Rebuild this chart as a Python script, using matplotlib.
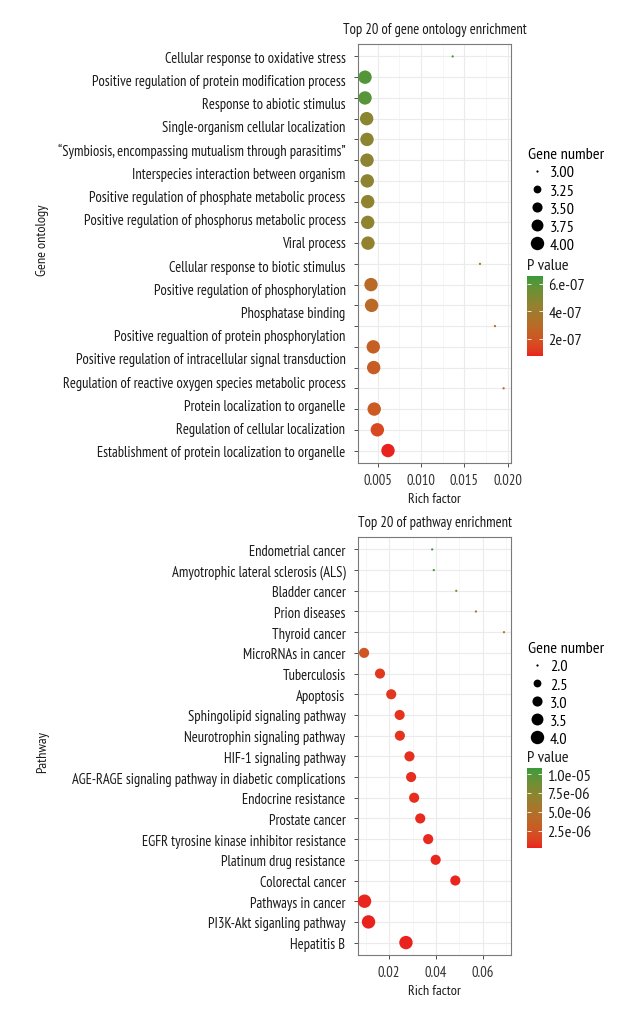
import numpy as np
import matplotlib
matplotlib.use("Agg")
import matplotlib.pyplot as plt
from matplotlib import font_manager
from matplotlib.colors import ListedColormap, Normalize
from matplotlib.lines import Line2D
from matplotlib.ticker import FixedLocator, NullFormatter

# ---------------- data ----------------
go_terms = [
    "Cellular response to oxidative stress",
    "Positive regulation of protein modification process",
    "Response to abiotic stimulus",
    "Single-organism cellular localization",
    "\u201cSymbiosis, encompassing mutualism through parasitims\u201d",
    "Interspecies interaction between organism",
    "Positive regulation of phosphate metabolic process",
    "Positive regulation of phosphorus metabolic process",
    "Viral process",
    "Cellular response to biotic stimulus",
    "Positive regulation of phosphorylation",
    "Phosphatase binding",
    "Positive regualtion of protein phosphorylation",
    "Positive regulation of intracellular signal transduction",
    "Regulation of reactive oxygen species metabolic process",
    "Protein localization to organelle",
    "Regulation of cellular localization",
    "Establishment of protein localization to organelle",
]
go_rich = [0.01365, 0.00354, 0.00354, 0.00373, 0.00377, 0.00377, 0.00380,
           0.00385, 0.00385, 0.00388, 0.01680, 0.00423, 0.00430, 0.01853,
           0.00449, 0.00454, 0.01953, 0.00460, 0.00496, 0.00619]
go_genes = [3, 4, 4, 4, 4, 4, 4, 4, 4, 4, 3, 4, 4, 3, 4, 4, 3, 4, 4, 4]
go_pvalue = [6.55e-7, 6.1e-7, 6.0e-7, 4.7e-7, 4.6e-7, 4.6e-7, 4.55e-7,
             4.5e-7, 4.5e-7, 4.4e-7, 3.5e-7, 3.0e-7, 2.9e-7, 2.8e-7,
             2.4e-7, 2.35e-7, 2.2e-7, 2.2e-7, 1.6e-7, 0.76e-7]
go_xticks = [0.005, 0.010, 0.015, 0.020]
go_xticklabels = ["0.005", "0.010", "0.015", "0.020"]
go_cbar_ticks = [2e-7, 4e-7, 6e-7]
go_cbar_labels = ["2e-07", "4e-07", "6.e-07"]
go_size_legend = [3.00, 3.25, 3.50, 3.75, 4.00]
go_size_labels = ["3.00", "3.25", "3.50", "3.75", "4.00"]

pw_terms = [
    "Endometrial cancer",
    "Amyotrophic lateral sclerosis (ALS)",
    "Bladder cancer",
    "Prion diseases",
    "Thyroid cancer",
    "MicroRNAs in cancer",
    "Tuberculosis",
    "Apoptosis",
    "Sphingolipid signaling pathway",
    "Neurotrophin signaling pathway",
    "HIF-1 signaling pathway",
    "AGE-RAGE signaling pathway in diabetic complications",
    "Endocrine resistance",
    "Prostate cancer",
    "EGFR tyrosine kinase inhibitor resistance",
    "Platinum drug resistance",
    "Colorectal cancer",
    "Pathways in cancer",
    "PI3K-Akt siganling pathway",
    "Hepatitis B",
]
pw_rich = [0.0384, 0.0391, 0.0487, 0.0571, 0.0691, 0.0093, 0.0161, 0.0209,
           0.0245, 0.0246, 0.0287, 0.0294, 0.0307, 0.0333, 0.0367, 0.0399,
           0.0483, 0.0095, 0.0112, 0.0272]
pw_genes = [2, 2, 2, 2, 2, 3, 3, 3, 3, 3, 3, 3, 3, 3, 3, 3, 3, 4, 4, 4]
pw_pvalue = [1.08e-5, 1.05e-5, 7.2e-6, 5.6e-6, 5.0e-6, 2.6e-6, 1.0e-6,
             9.0e-7, 8.0e-7, 7.5e-7, 6.5e-7, 6.0e-7, 5.5e-7, 5.0e-7,
             4.5e-7, 4.0e-7, 3.5e-7, 3.0e-7, 2.6e-7, 2.3e-7]
pw_xticks = [0.02, 0.04, 0.06]
pw_xticklabels = ["0.02", "0.04", "0.06"]
pw_cbar_ticks = [2.5e-6, 5.0e-6, 7.5e-6, 1.0e-5]
pw_cbar_labels = ["2.5e-06", "5.0e-06", "7.5e-06", "1.0e-05"]
pw_size_legend = [2.0, 2.5, 3.0, 3.5, 4.0]
pw_size_labels = ["2.0", "2.5", "3.0", "3.5", "4.0"]

# ---------------- style ----------------
available = {f.name for f in font_manager.fontManager.ttflist}
candidates = ["PT Sans Narrow", "Roboto Condensed", "Fira Sans Condensed",
              "Open Sans Condensed", "Asap Condensed", "Archivo Narrow",
              "Barlow Semi Condensed", "Liberation Sans Narrow"]
chosen = [c for c in candidates if c in available]
if chosen:
    FONT = [chosen[0], "DejaVu Sans"]
    STRETCH = "normal"
else:
    FONT = ["DejaVu Sans"]
    STRETCH = "condensed"
plt.rcParams["font.family"] = FONT
plt.rcParams["font.stretch"] = STRETCH
TXT = "#1a1a1a"

W, H = 630, 1020
fig = plt.figure(figsize=(W / 100, H / 100), dpi=100)
fig.patch.set_facecolor("white")
_renderer = fig.canvas.get_renderer()


def fit_size(s, target_px, base=10.0):
    t = fig.text(0, 0, s, fontsize=base)
    w = t.get_window_extent(renderer=_renderer).width
    t.remove()
    return base * target_px / w


FS_LAB = fit_size("Positive regulation of protein modification process", 254)
FS_TITLE = fit_size("Top 20 of gene ontology enrichment", 184)
FS_LEG = fit_size("Gene number", 76)
FS_TICK = fit_size("0.005", 29)
FS_AX = fit_size("Rich factor", 53)


def fx(px):
    return px / W


def fy(py):
    return 1 - py / H


# Lab-space gradient (ggplot style) from red (low) to green (high)
_M = np.array([[0.4124, 0.3576, 0.1805], [0.2126, 0.7152, 0.0722], [0.0193, 0.1192, 0.9505]])
_WHITE = np.array([0.95047, 1.0, 1.08883])


def to_lab(hexc):
    rgb = np.array([int(hexc[i:i + 2], 16) / 255 for i in (1, 3, 5)])
    lin = np.where(rgb <= 0.04045, rgb / 12.92, ((rgb + 0.055) / 1.055) ** 2.4)
    t = (_M @ lin) / _WHITE
    d = 6 / 29
    f = np.where(t > d ** 3, np.cbrt(t), t / (3 * d * d) + 4 / 29)
    return np.array([116 * f[1] - 16, 500 * (f[0] - f[1]), 200 * (f[1] - f[2])])


def from_lab(lab):
    L, a, b = lab
    fy_ = (L + 16) / 116
    f = np.array([fy_ + a / 500, fy_, fy_ - b / 200])
    d = 6 / 29
    t = np.where(f > d, f ** 3, 3 * d * d * (f - 4 / 29))
    lin = np.clip(np.linalg.inv(_M) @ (t * _WHITE), 0, 1)
    rgb = np.where(lin <= 0.0031308, 12.92 * lin, 1.055 * lin ** (1 / 2.4) - 0.055)
    return np.clip(rgb, 0, 1)


lab_lo, lab_hi = to_lab("#EA221E"), to_lab("#389A3C")
cmap = ListedColormap([from_lab(lab_lo + (lab_hi - lab_lo) * t) for t in np.linspace(0, 1, 256)])


def diam_px(v, vmin, vmax, full=13.4):
    # ggplot scale_size (area palette, range 1..6)
    t = (np.asarray(v, float) - vmin) / (vmax - vmin)
    return (1 + 5 * np.sqrt(t)) / 6 * full


def px_to_pt(p):
    return p * 72 / 100


def panel(rect_px, rich, genes, pvals, ylabels, label_pos, xticks, xticklabels,
          xlim, minor_x, title, ylab, ylab_y, size_vals, size_labels,
          leg_top, cbar_rect, cbar_ticks, cbar_labels, ptitle_y):
    l, t, r, b = rect_px
    ax = fig.add_axes([fx(l), fy(b), fx(r - l), (b - t) / H])
    n = len(rich)
    y = np.arange(n, 0, -1)
    norm = Normalize(vmin=min(pvals), vmax=max(pvals))
    gmin, gmax = min(genes), max(genes)
    s = px_to_pt(diam_px(genes, gmin, gmax)) ** 2
    ax.scatter(rich, y, s=s, c=pvals, cmap=cmap, norm=norm, linewidths=0, zorder=3)
    ax.set_xlim(*xlim)
    ax.set_ylim(0.4, n + 0.6)
    ax.set_xticks(xticks)
    ax.set_xticklabels(xticklabels)
    ax.xaxis.set_minor_locator(FixedLocator(minor_x))
    # row ticks (major) and term labels (minor, no tick mark)
    ax.yaxis.remove_overlapping_locs = False
    ax.yaxis.set_major_locator(FixedLocator(y))
    ax.yaxis.set_major_formatter(NullFormatter())
    ax.yaxis.set_minor_locator(FixedLocator(label_pos))
    ax.set_yticklabels(ylabels, minor=True)
    ax.tick_params(axis="y", which="minor", length=0, pad=9, labelsize=FS_LAB, labelcolor=TXT)
    ax.tick_params(axis="y", which="major", length=3, width=0.6, color="#333333")
    ax.tick_params(axis="x", which="major", length=3, width=0.6, color="#333333",
                   labelsize=FS_TICK, labelcolor="#333333", pad=4.5)
    ax.tick_params(axis="x", which="minor", length=0)
    ax.grid(True, which="major", color="#EBEBEB", linewidth=0.8, zorder=0)
    ax.grid(True, which="minor", axis="x", color="#F3F3F3", linewidth=0.5, zorder=0)
    ax.set_axisbelow(True)
    for sp in ax.spines.values():
        sp.set_color("#7a7a7a")
        sp.set_linewidth(0.8)
    ax.set_title(title, fontsize=FS_TITLE, color=TXT, pad=8)
    ax.set_xlabel("Rich factor", fontsize=FS_AX, color=TXT, labelpad=3)
    fig.text(fx(43), fy(ylab_y), ylab, rotation=90, ha="center", va="center",
             fontsize=FS_AX, color=TXT)

    # size legend
    handles = [Line2D([], [], marker="o", linestyle="", color="black", markeredgewidth=0,
                      markersize=px_to_pt(diam_px(v, gmin, gmax))) for v in size_vals]
    fig.legend(handles, size_labels, title="Gene number", loc="upper left",
               bbox_to_anchor=(fx(525), fy(leg_top)), frameon=False, fontsize=FS_LEG,
               title_fontsize=FS_LEG, alignment="left", handlelength=1.0,
               handletextpad=0.3, labelspacing=0.22, borderpad=0.2, borderaxespad=0)

    # colour bar
    cl, ct, cr, cb = cbar_rect
    cax = fig.add_axes([fx(cl), fy(cb), fx(cr - cl), (cb - ct) / H])
    cbar = fig.colorbar(plt.cm.ScalarMappable(norm=norm, cmap=cmap), cax=cax)
    cbar.outline.set_visible(False)
    cbar.set_ticks(cbar_ticks)
    cbar.set_ticklabels(cbar_labels)
    cax.tick_params(axis="y", direction="in", color="white", length=3, width=0.6,
                    left=True, right=True, labelsize=FS_LEG, labelcolor=TXT, pad=4)
    fig.text(fx(527), fy(ptitle_y), "P value", ha="left", va="center",
             fontsize=FS_LEG, color=TXT)
    return ax


# top panel: 20 rows, 18 labels spread evenly over the rows
n_go = len(go_rich)
go_label_pos = np.linspace(n_go, 1, len(go_terms))
panel((358, 45, 511, 464), go_rich, go_genes, go_pvalue, go_terms, go_label_pos,
      go_xticks, go_xticklabels, (0.00273, 0.02038),
      [0.0025, 0.0075, 0.0125, 0.0175], "Top 20 of gene ontology enrichment",
      "Gene ontology", 240, go_size_legend, go_size_labels, 145,
      (527, 277, 543, 357), go_cbar_ticks, go_cbar_labels, 266)

n_pw = len(pw_rich)
pw_label_pos = np.arange(n_pw, 0, -1)
panel((358, 538, 511, 956), pw_rich, pw_genes, pw_pvalue, pw_terms, pw_label_pos,
      pw_xticks, pw_xticklabels, (0.0067, 0.0721),
      [0.01, 0.03, 0.05, 0.07], "Top 20 of pathway enrichment",
      "Pathway", 752, pw_size_legend, pw_size_labels, 639,
      (527, 769, 542, 849), pw_cbar_ticks, pw_cbar_labels, 758)

fig.savefig("out.png", dpi=100, facecolor="white")
